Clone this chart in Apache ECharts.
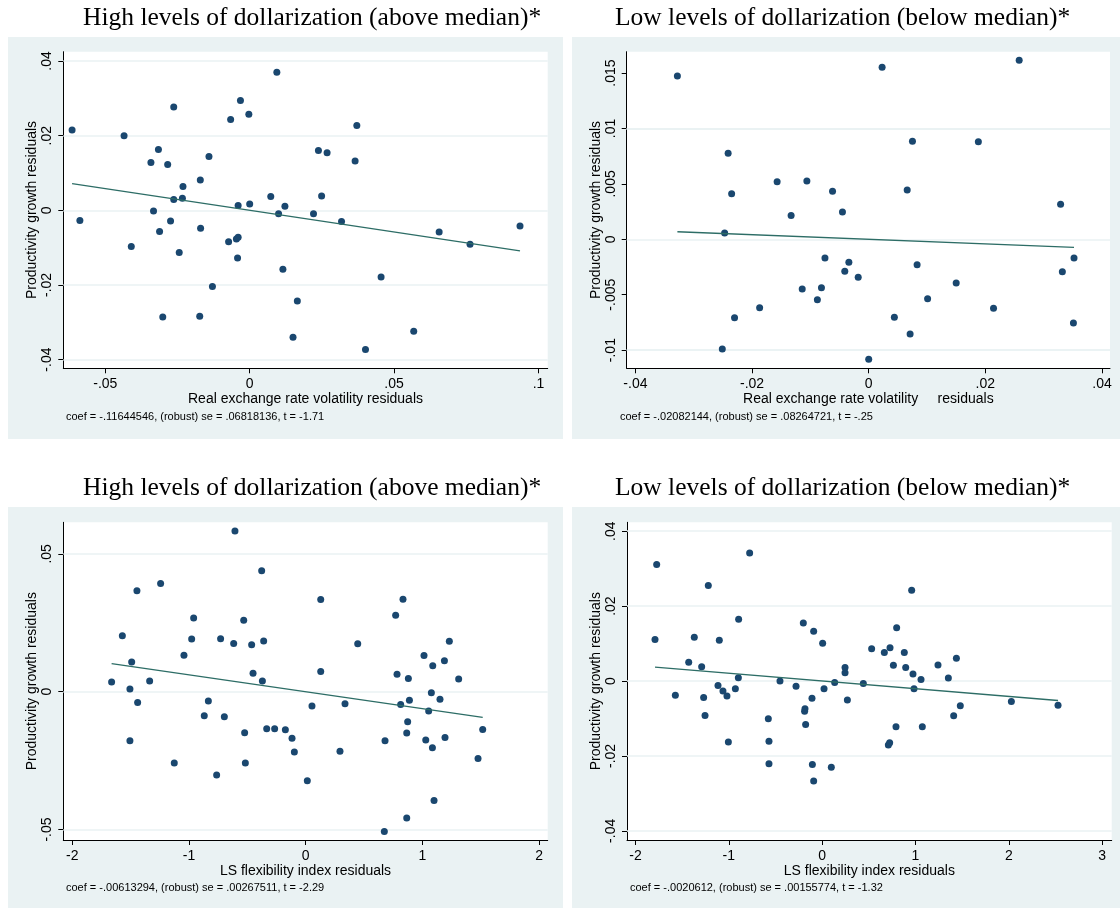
<!DOCTYPE html>
<html>
<head>
<meta charset="utf-8">
<script src="https://cdn.jsdelivr.net/npm/echarts@6/dist/echarts.min.js"></script>
<style>
html,body{margin:0;padding:0;background:#fff;}
#c{width:1120px;height:908px;}
</style>
</head>
<body>
<div id="c"></div>
<script>
// ---------- DATA ----------
const titles = [
  "High levels of dollarization (above median)*",
  "Low levels of dollarization (below median)*",
  "High levels of dollarization (above median)*",
  "Low levels of dollarization (below median)*"
];
const xTitles = [
  "Real exchange rate volatility residuals",
  "Real exchange rate volatility     residuals",
  "LS flexibility index residuals",
  "LS flexibility index residuals"
];
const yTitle = "Productivity growth residuals";
const notes = [
  "coef = -.11644546, (robust) se = .06818136, t = -1.71",
  "coef = -.02082144, (robust) se = .08264721, t = -.25",
  "coef = -.00613294, (robust) se = .00267511, t = -2.29",
  "coef = -.0020612, (robust) se = .00155774, t = -1.32"
];
const coefs = [-0.11644546, -0.02082144, -0.00613294, -0.0020612];

const xTicks1 = [-0.05, 0, 0.05, 0.1];
const yTicks1 = [-0.04, -0.02, 0, 0.02, 0.04];
const xTicks2 = [-0.04, -0.02, 0, 0.02, 0.04];
const yTicks2 = [-0.01, -0.005, 0, 0.005, 0.01, 0.015];
const xTicks3 = [-2, -1, 0, 1, 2];
const yTicks3 = [-0.05, 0, 0.05];
const xTicks4 = [-2, -1, 0, 1, 2, 3];
const yTicks4 = [-0.04, -0.02, 0, 0.02, 0.04];

const p1x = [-0.0615,-0.0588,-0.0435,-0.0410,-0.0342,-0.0316,-0.0333,-0.0312,-0.0301,-0.0284,
  -0.0274,-0.0263,-0.0263,-0.0244,-0.0231,-0.0233,-0.0171,-0.0170,-0.0173,-0.0141,
  -0.0129,-0.0073,-0.0066,-0.0046,-0.0040,-0.0040,-0.0042,-0.0032,-0.0003,0.0000,
  0.0073,0.0094,0.0100,0.0122,0.0115,0.0371,0.0238,0.0268,0.0365,0.0249,
  0.0221,0.0318,0.0656,0.0763,0.0936,0.0455,0.0165,0.0150,0.0568,0.0401];
const p1y = [0.0215,-0.0027,0.0200,-0.0097,0.0128,0.0163,-0.0002,-0.0057,-0.0286,0.0123,
  -0.0029,0.0277,0.0029,-0.0113,0.0064,0.0032,0.0081,-0.0048,-0.0284,0.0144,
  -0.0204,-0.0084,0.0243,-0.0077,-0.0072,0.0013,-0.0128,0.0294,0.0257,0.0017,
  0.0037,0.0370,-0.0009,0.0011,-0.0158,0.0227,0.0160,0.0154,0.0132,0.0038,
  -0.0009,-0.0030,-0.0058,-0.0091,-0.0042,-0.0179,-0.0243,-0.0340,-0.0324,-0.0373];

const p2x = [-0.0328,-0.0241,-0.0235,-0.0247,-0.0251,-0.0230,-0.0187,-0.0157,-0.0133,-0.0114,
  -0.0106,-0.0088,-0.0081,-0.0075,-0.0062,-0.0045,-0.0041,-0.0034,-0.0018,0.0023,
  0.0000,0.0044,0.0066,0.0071,0.0075,0.0083,0.0101,0.0150,0.0188,0.0214,
  0.0258,0.0329,0.0332,0.0352,0.0351];
const p2y = [0.01474,0.00776,0.00412,0.00057,-0.00990,-0.00707,-0.00617,0.00520,0.00214,-0.00448,
  0.00526,-0.00545,-0.00436,-0.00168,0.00433,0.00247,-0.00289,-0.00208,-0.00343,0.01552,
  -0.01083,-0.00704,0.00445,-0.00854,0.00884,-0.00229,-0.00536,-0.00394,0.00881,-0.00623,
  0.01616,0.00316,-0.00292,-0.00168,-0.00755];

const p3x = [-1.663,-1.571,-1.491,-1.506,-1.506,-1.446,-1.440,-1.337,-1.243,-1.126,
  -1.043,-0.977,-0.960,-0.869,-0.834,-0.763,-0.729,-0.697,-0.617,-0.606,
  -0.531,-0.523,-0.517,-0.463,-0.451,-0.377,-0.371,-0.360,-0.334,-0.266,
  -0.174,-0.117,-0.097,0.014,0.054,0.129,0.129,0.294,0.337,0.446,
  0.680,0.674,0.771,0.783,0.814,0.834,0.866,0.874,0.880,0.889,
  0.866,1.014,1.029,1.054,1.077,1.089,1.086,1.100,1.151,1.189,
  1.194,1.231,1.311,1.477,1.517];
const p3y = [0.0035,0.0203,0.0108,0.0010,-0.0178,0.0366,-0.0039,0.0039,0.0392,-0.0259,
  0.0132,0.0191,0.0267,-0.0087,-0.0034,-0.0302,0.0192,-0.0091,0.0175,0.0583,
  0.0259,-0.0149,-0.0259,0.0170,0.0067,0.0439,0.0039,0.0184,-0.0134,-0.0134,
  -0.0138,-0.0169,-0.0219,-0.0323,-0.0052,0.0334,0.0073,-0.0216,-0.0044,0.0174,
  -0.0178,-0.0507,0.0277,0.0063,-0.0046,0.0335,-0.0150,-0.0109,0.0048,-0.0031,
  -0.0458,0.0131,-0.0175,-0.0070,-0.0004,0.0094,-0.0203,-0.0395,-0.0027,0.0112,
  -0.0166,0.0183,0.0046,-0.0242,-0.0137];

const p4x = [-1.773,-1.791,-1.573,-1.430,-1.370,-1.291,-1.270,-1.255,-1.220,-1.116,
  -1.102,-1.063,-1.020,-1.005,-0.930,-0.898,-0.895,-0.777,-0.577,-0.570,
  -0.570,-0.452,-0.280,-0.202,-0.184,-0.188,-0.177,-0.109,-0.105,-0.091,
  -0.091,0.005,0.020,0.098,0.134,0.245,0.245,0.270,0.441,0.530,
  0.666,0.727,0.709,0.723,0.763,0.791,0.798,0.880,0.895,0.959,
  0.973,0.984,1.059,1.073,1.241,1.352,1.409,1.438,1.480,2.027,
  2.527];
const p4y = [0.0311,0.0111,-0.0038,0.0050,0.0117,0.0038,-0.0044,-0.0092,0.0255,-0.0012,
  0.0109,-0.0027,-0.0040,-0.0163,-0.0021,0.0009,0.0165,0.0342,-0.0101,-0.0161,
  -0.0221,0.0000,-0.0014,0.0155,-0.0074,-0.0081,-0.0116,-0.0046,-0.0223,0.0133,
  -0.0267,0.0101,-0.0021,-0.0230,-0.0004,0.0036,0.0022,-0.0051,-0.0007,0.0086,
  0.0076,0.0089,-0.0171,-0.0165,0.0042,-0.0122,0.0142,0.0076,0.0036,0.0242,
  0.0019,-0.0021,0.0004,-0.0122,0.0043,0.0008,-0.0093,0.0061,-0.0066,-0.0055,
  -0.0065];

// ---------- LAYOUT ----------
const panels = [
  {xs:p1x, ys:p1y, xt:xTicks1, yt:yTicks1, grid:{left:63.3, top:51.7, width:484.4, height:316.6}, xr:[-0.06454,0.10319], yr:[-0.04233,0.04249], box:[8,37,555,402], title:[83,18], note:[66,416.7]},
  {xs:p2x, ys:p2y, xt:xTicks2, yt:yTicks2, grid:{left:626.7, top:51.7, width:483.3, height:316.6}, xr:[-0.04149,0.04137], yr:[-0.01164,0.01693], box:[572,37,548,402], title:[615,18], note:[620,416.7]},
  {xs:p3x, ys:p3y, xt:xTicks3, yt:yTicks3, grid:{left:63.3, top:522.3, width:484.4, height:317.7}, xr:[-2.077,2.074], yr:[-0.05379,0.06144], box:[8,507,555,401], title:[83,488], note:[66,888.3]},
  {xs:p4x, ys:p4y, xt:xTicks4, yt:yTicks4, grid:{left:627, top:522.3, width:484.7, height:317.7}, xr:[-2.091,3.102], yr:[-0.04245,0.04237], box:[572,507,548,401], title:[615,488], note:[630,888.3]}
];

const DOT = '#1A476F';
const FIT = '#2D6D66';
const BG = '#EAF2F3';
const SANS = '"Liberation Sans", Arial, sans-serif';

function fmt(v) {
  if (v === 0) return '0';
  const s = String(parseFloat(v.toFixed(6)));
  return s.replace(/^(-?)0\./, '$1.');
}

const grid = [], xAxis = [], yAxis = [], series = [], graphics = [];

panels.forEach((p, i) => {
  grid.push(Object.assign({show:true, backgroundColor:'#fff', borderWidth:0, containLabel:false}, p.grid));
  xAxis.push({
    type:'value', gridIndex:i, min:p.xr[0], max:p.xr[1],
    axisLine:{show:true, onZero:false, lineStyle:{color:'#000', width:1}},
    axisTick:{show:true, length:5, customValues:p.xt, lineStyle:{color:'#000', width:1}},
    axisLabel:{show:true, customValues:p.xt, formatter:fmt, color:'#000', fontSize:14, fontFamily:SANS, margin:9},
    splitLine:{show:false},
    name:xTitles[i], nameLocation:'middle', nameGap:23,
    nameTextStyle:{color:'#000', fontSize:14, fontFamily:SANS}
  });
  yAxis.push({
    type:'value', gridIndex:i, min:p.yr[0], max:p.yr[1],
    axisLine:{show:true, onZero:false, lineStyle:{color:'#000', width:1}},
    axisTick:{show:true, length:5, customValues:p.yt, lineStyle:{color:'#000', width:1}},
    axisLabel:{show:true, customValues:p.yt, formatter:fmt, rotate:90, color:'#000', fontSize:14, fontFamily:SANS, margin:9},
    splitLine:{show:false},
    name:yTitle, nameLocation:'middle', nameGap:24,
    nameTextStyle:{color:'#000', fontSize:14, fontFamily:SANS}
  });
  const pts = p.xs.map((x, k) => [x, p.ys[k]]);
  series.push({
    type:'scatter', xAxisIndex:i, yAxisIndex:i, data:pts, symbol:'circle', symbolSize:7,
    itemStyle:{color:DOT, opacity:1}, z:2, silent:true, animation:false,
    markLine:{silent:true, symbol:'none', z:1, animation:false, label:{show:false},
      lineStyle:{color:BG, width:1.5, type:'solid'},
      data:p.yt.map(v => ({yAxis:v}))}
  });
  const xmin = Math.min(...p.xs), xmax = Math.max(...p.xs);
  series.push({
    type:'line', xAxisIndex:i, yAxisIndex:i, data:[[xmin, coefs[i]*xmin],[xmax, coefs[i]*xmax]],
    symbol:'none', lineStyle:{color:FIT, width:1.3}, z:3, silent:true, animation:false
  });
  graphics.push({type:'rect', z:-5, silent:true, shape:{x:p.box[0], y:p.box[1], width:p.box[2], height:p.box[3]}, style:{fill:BG}});
  graphics.push({type:'text', z:5, silent:true, style:{x:p.title[0], y:p.title[1], text:titles[i], fill:'#000', font:'25.5px "Liberation Serif", "Times New Roman", serif', align:'left', verticalAlign:'middle'}});
  graphics.push({type:'text', z:5, silent:true, style:{x:p.note[0], y:p.note[1], text:notes[i], fill:'#000', font:'11px ' + SANS, align:'left', verticalAlign:'middle'}});
});

const chart = echarts.init(document.getElementById('c'), null, {renderer:'canvas'});
chart.setOption({
  backgroundColor:'#fff',
  animation:false,
  grid, xAxis, yAxis, series,
  graphic:{elements:graphics}
});
</script>
</body>
</html>
